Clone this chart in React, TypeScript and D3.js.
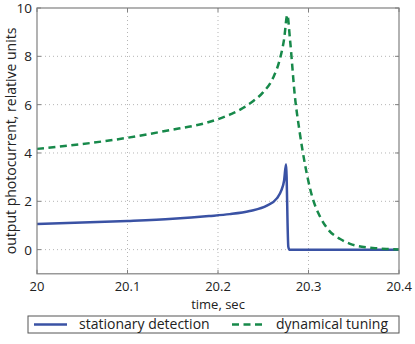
import React from "react";
import * as d3 from "d3";

// time axis (sec) and photocurrent values
const stationaryTime = [20.0, 20.05, 20.1, 20.15, 20.19, 20.213, 20.235, 20.254, 20.265, 20.27, 20.273, 20.2752, 20.2777, 20.279, 20.29, 20.4];
const stationaryValue = [1.06, 1.12, 1.19, 1.28, 1.39, 1.47, 1.6, 1.82, 2.12, 2.45, 2.85, 3.53, 0.12, 0.0, 0.0, 0.0];

const dynamicalTime = [20.0, 20.05, 20.1, 20.143, 20.19, 20.215, 20.228, 20.239, 20.25, 20.261, 20.2685, 20.273, 20.2766, 20.2796, 20.285, 20.2899, 20.296, 20.304, 20.3127, 20.322, 20.335, 20.346, 20.359, 20.3735, 20.386, 20.4];
const dynamicalValue = [4.17, 4.37, 4.63, 4.92, 5.28, 5.62, 5.87, 6.15, 6.52, 7.12, 7.9, 8.7, 9.71, 8.68, 6.33, 4.95, 3.55, 2.2, 1.37, 0.82, 0.44, 0.24, 0.12, 0.06, 0.03, 0.01];

const xTicks = [20, 20.1, 20.2, 20.3, 20.4];
const xTickLabels = ["20", "20.1", "20.2", "20.3", "20.4"];
const yTicks = [0, 2, 4, 6, 8, 10];

const seriesNames = ["stationary detection", "dynamical tuning"];

const W = 415;
const H = 344;
const FONT = "'Open Sans', sans-serif";
const BLUE = "#3a52a4";
const GREEN = "#17894a";

export default function App() {
  const x = d3.scaleLinear().domain([20, 20.4]).range([37, 399]);
  const y = d3.scaleLinear().domain([-1, 10]).range([273.8, 8]);

  const line = d3
    .line<[number, number]>()
    .x((d) => x(d[0]))
    .y((d) => y(d[1]))
    .curve(d3.curveMonotoneX);

  const stationary = stationaryTime.map((t, i) => [t, stationaryValue[i]] as [number, number]);
  const dynamical = dynamicalTime.map((t, i) => [t, dynamicalValue[i]] as [number, number]);

  const [x0, x1] = x.range();
  const [y0, y1] = y.range();

  return (
    <svg
      width={W}
      height={H}
      style={{ position: "absolute", left: 0, top: 0, background: "#fff" }}
      fontFamily={FONT}
    >
      {/* grid */}
      {xTicks.slice(1, -1).map((t) => (
        <line key={"gx" + t} x1={x(t)} x2={x(t)} y1={y1} y2={y0} stroke="#b5b5b5" strokeDasharray="1,3" />
      ))}
      {yTicks.slice(0, -1).map((t) => (
        <line key={"gy" + t} x1={x0} x2={x1} y1={y(t)} y2={y(t)} stroke="#b5b5b5" strokeDasharray="1,3" />
      ))}

      {/* ticks on all sides */}
      {xTicks.map((t) => (
        <g key={"tx" + t}>
          <line x1={x(t)} x2={x(t)} y1={y0} y2={y0 - 4} stroke="#808080" />
          <line x1={x(t)} x2={x(t)} y1={y1} y2={y1 + 4} stroke="#808080" />
        </g>
      ))}
      {yTicks.map((t) => (
        <g key={"ty" + t}>
          <line x1={x0} x2={x0 + 4} y1={y(t)} y2={y(t)} stroke="#808080" />
          <line x1={x1} x2={x1 - 4} y1={y(t)} y2={y(t)} stroke="#808080" />
        </g>
      ))}

      {/* series */}
      <path d={line(stationary) ?? ""} fill="none" stroke={BLUE} strokeWidth={2.5} strokeLinejoin="round" />
      <path d={line(dynamical) ?? ""} fill="none" stroke={GREEN} strokeWidth={2.5} strokeDasharray="7,4.5" />

      {/* box */}
      <rect x={x0} y={y1} width={x1 - x0} height={y0 - y1} fill="none" stroke="#808080" strokeWidth={1.2} />

      {/* tick labels */}
      {xTicks.map((t, i) => (
        <text key={"lx" + t} x={x(t)} y={290.5} textAnchor="middle" fontSize={13} fill="#222">
          {xTickLabels[i]}
        </text>
      ))}
      {yTicks.map((t) => (
        <text key={"ly" + t} x={32} y={y(t) + 5} textAnchor="end" fontSize={13.5} fill="#222">
          {t}
        </text>
      ))}

      <text x={218} y={309} textAnchor="middle" fontSize={13} fill="#222">
        time, sec
      </text>
      <text
        transform={`translate(16,${(y0 + y1) / 2}) rotate(-90)`}
        textAnchor="middle"
        fontSize={14}
        fill="#222"
      >
        output photocurrent, relative units
      </text>

      {/* legend */}
      <rect x={28} y={316} width={371} height={17} fill="#fff" stroke="#555" strokeWidth={1} />
      <line x1={34} x2={67} y1={324.5} y2={324.5} stroke={BLUE} strokeWidth={2.5} />
      <text x={79} y={329} fontSize={14} fill="#222">
        {seriesNames[0]}
      </text>
      <line x1={232} x2={266} y1={324.5} y2={324.5} stroke={GREEN} strokeWidth={2.5} strokeDasharray="7,4.5" />
      <text x={276} y={329} fontSize={14} fill="#222">
        {seriesNames[1]}
      </text>
    </svg>
  );
}
